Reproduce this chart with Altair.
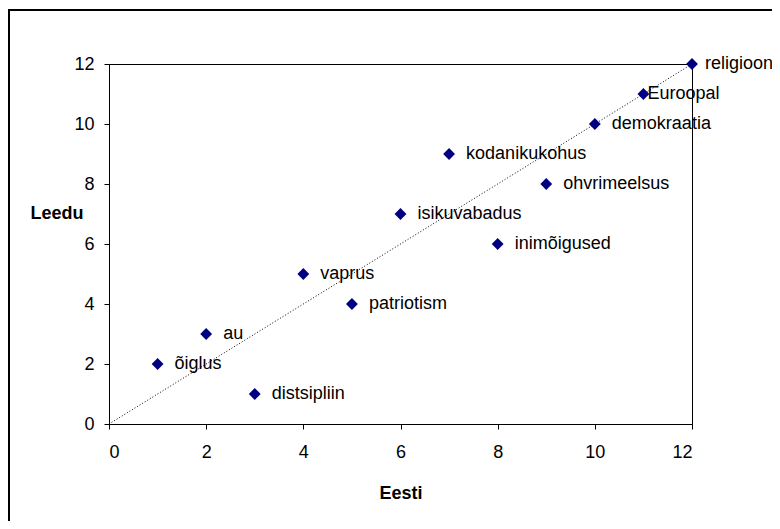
import altair as alt
import pandas as pd

eesti = [1, 2, 3, 4, 5, 6, 7, 8, 9, 10, 11, 12]
leedu = [2, 3, 1, 5, 4, 7, 9, 6, 8, 10, 11, 12]
labels = ["õiglus", "au", "distsipliin", "vaprus", "patriotism", "isikuvabadus",
          "kodanikukohus", "inimõigused", "ohvrimeelsus", "demokraatia",
          "Euroopal", "religioon"]
diag_x = [0, 12]
diag_y = [0, 12]

df = pd.DataFrame({"Eesti": eesti, "Leedu": leedu, "label": labels})
diag = pd.DataFrame({"Eesti": diag_x, "Leedu": diag_y})

FONT = "Liberation Sans"

xscale = alt.Scale(domain=[0, 12], nice=False, zero=False)
yscale = alt.Scale(domain=[0, 12], nice=False, zero=False)

xaxis = alt.Axis(values=[0, 2, 4, 6, 8, 10, 12], grid=False, tickSize=5,
                 labelPadding=14, title="Eesti", titleFontWeight="bold",
                 titleBaseline="alphabetic", titleY=74, titleX=291.5,
                 titleAlign="center")
yaxis = alt.Axis(values=[0, 2, 4, 6, 8, 10, 12], grid=False, tickSize=5,
                 labelPadding=10, title="Leedu", titleFontWeight="bold",
                 titleAngle=0, titleAlign="right", titleBaseline="alphabetic",
                 titleX=-26, titleY=154)

border = alt.Chart(pd.DataFrame({"a": [0]})).mark_rect(
    fill=None, stroke="#000000", strokeWidth=2
).encode(x=alt.value(-100), x2=alt.value(2000), y=alt.value(-54), y2=alt.value(2000))

line = alt.Chart(diag).mark_line(color="black", strokeDash=[1, 2], strokeWidth=1).encode(
    x=alt.X("Eesti:Q", scale=xscale, axis=xaxis),
    y=alt.Y("Leedu:Q", scale=yscale, axis=yaxis),
)

points = alt.Chart(df).mark_point(shape="diamond", filled=True, color="#000080",
                                  size=140, opacity=1).encode(
    x=alt.X("Eesti:Q", scale=xscale),
    y=alt.Y("Leedu:Q", scale=yscale),
)

def text_layer(filt, dx):
    return alt.Chart(df).transform_filter(filt).mark_text(
        align="left", baseline="middle", dx=dx, fontSize=18, font=FONT, color="black"
    ).encode(
        x=alt.X("Eesti:Q", scale=xscale),
        y=alt.Y("Leedu:Q", scale=yscale),
        text="label:N",
    )

t_main = text_layer("datum.label != 'Euroopal' && datum.label != 'religioon'", 17)
t_eur = text_layer("datum.label == 'Euroopal'", 4)
t_rel = text_layer("datum.label == 'religioon'", 13)

chart = alt.layer(border, line, points, t_main, t_eur, t_rel).properties(
    width=583, height=360,
    autosize=alt.AutoSizeParams(type="none"),
    padding={"left": 101, "top": 56, "right": 80, "bottom": 97},
    background="white",
).configure_view(
    stroke="black", strokeWidth=1
).configure_axis(
    labelFont=FONT, titleFont=FONT, labelFontSize=18, titleFontSize=18,
    labelColor="black", titleColor="black", domainColor="black",
    tickColor="black", domainWidth=1, tickWidth=1,
)

chart.save("out.html", embed_options={"renderer": "svg", "actions": False})
